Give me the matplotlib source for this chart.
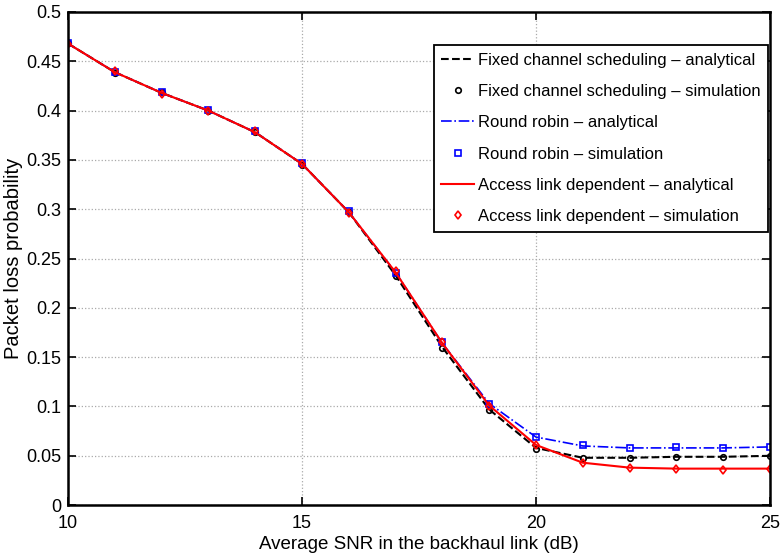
import numpy as np
import matplotlib
matplotlib.use('Agg')
from matplotlib import pyplot as plt

plt.rcParams['font.family'] = ['Liberation Sans', 'DejaVu Sans']

snr = [10, 11, 12, 13, 14, 15, 16, 17, 18, 19, 20, 21, 22, 23, 24, 25]

fixed_ana = [0.468, 0.439, 0.418, 0.400, 0.378, 0.346, 0.297, 0.233, 0.160, 0.097, 0.058, 0.048, 0.048, 0.049, 0.049, 0.050]
fixed_sim = [0.469, 0.438, 0.419, 0.400, 0.378, 0.345, 0.297, 0.232, 0.159, 0.096, 0.057, 0.048, 0.048, 0.049, 0.049, 0.050]
rr_ana = [0.468, 0.439, 0.418, 0.400, 0.378, 0.346, 0.297, 0.236, 0.164, 0.103, 0.069, 0.060, 0.058, 0.058, 0.058, 0.059]
rr_sim = [0.469, 0.439, 0.419, 0.401, 0.379, 0.347, 0.298, 0.235, 0.165, 0.103, 0.069, 0.061, 0.058, 0.059, 0.058, 0.059]
ald_ana = [0.468, 0.439, 0.418, 0.400, 0.378, 0.346, 0.297, 0.236, 0.164, 0.101, 0.061, 0.043, 0.038, 0.037, 0.037, 0.037]
ald_sim = [0.468, 0.440, 0.417, 0.400, 0.379, 0.346, 0.296, 0.237, 0.165, 0.101, 0.061, 0.043, 0.038, 0.037, 0.036, 0.037]

fig = plt.figure(figsize=(7.83, 5.6), dpi=100)
ax = fig.add_axes([0.0868, 0.098, 0.8966, 0.8806])

ax.plot(snr, fixed_ana, 'k--', lw=1.5, label='Fixed channel scheduling \u2013 analytical')
ax.plot(snr, fixed_sim, 'ko', mfc='none', ms=4, mew=1.2, ls='none', label='Fixed channel scheduling \u2013 simulation')
ax.plot(snr, rr_ana, 'b-.', lw=1.2, label='Round robin \u2013 analytical')
ax.plot(snr, rr_sim, 'bs', mfc='none', ms=4, mew=1.2, ls='none', label='Round robin \u2013 simulation')
ax.plot(snr, ald_ana, 'r-', lw=1.5, label='Access link dependent \u2013 analytical')
ax.plot(snr, ald_sim, 'rd', mfc='none', ms=4.5, mew=1.2, ls='none', label='Access link dependent \u2013 simulation')

ax.set_xlim(10, 25)
ax.set_ylim(0, 0.5)
ax.set_xticks([10, 15, 20, 25])
ax.set_yticks(np.arange(0, 0.51, 0.05))
ax.set_yticklabels(['0', '0.05', '0.1', '0.15', '0.2', '0.25', '0.3', '0.35', '0.4', '0.45', '0.5'])
ax.tick_params(direction='in', top=True, right=True, labelsize=13, length=6, width=1.2)
ax.tick_params(axis='x', pad=7)
ax.tick_params(axis='y', pad=5)
for s in ax.spines.values():
    s.set_linewidth(1.8)
ax.grid(True, ls=':', color='#aaaaaa', lw=0.9)

ax.set_xlabel('Average SNR in the backhaul link (dB)', fontsize=13.5, labelpad=3)
ax.set_ylabel('Packet loss probability', fontsize=14.5, labelpad=2)

leg = ax.legend(loc='upper right', bbox_to_anchor=(0.997, 0.933), fontsize=12, handlelength=2.0,
                handletextpad=0.2, borderpad=0.45, labelspacing=0.98, fancybox=False,
                framealpha=1, edgecolor='black', borderaxespad=0.0)
leg.get_frame().set_linewidth(1.3)

fig.savefig('out.png', dpi=100)
